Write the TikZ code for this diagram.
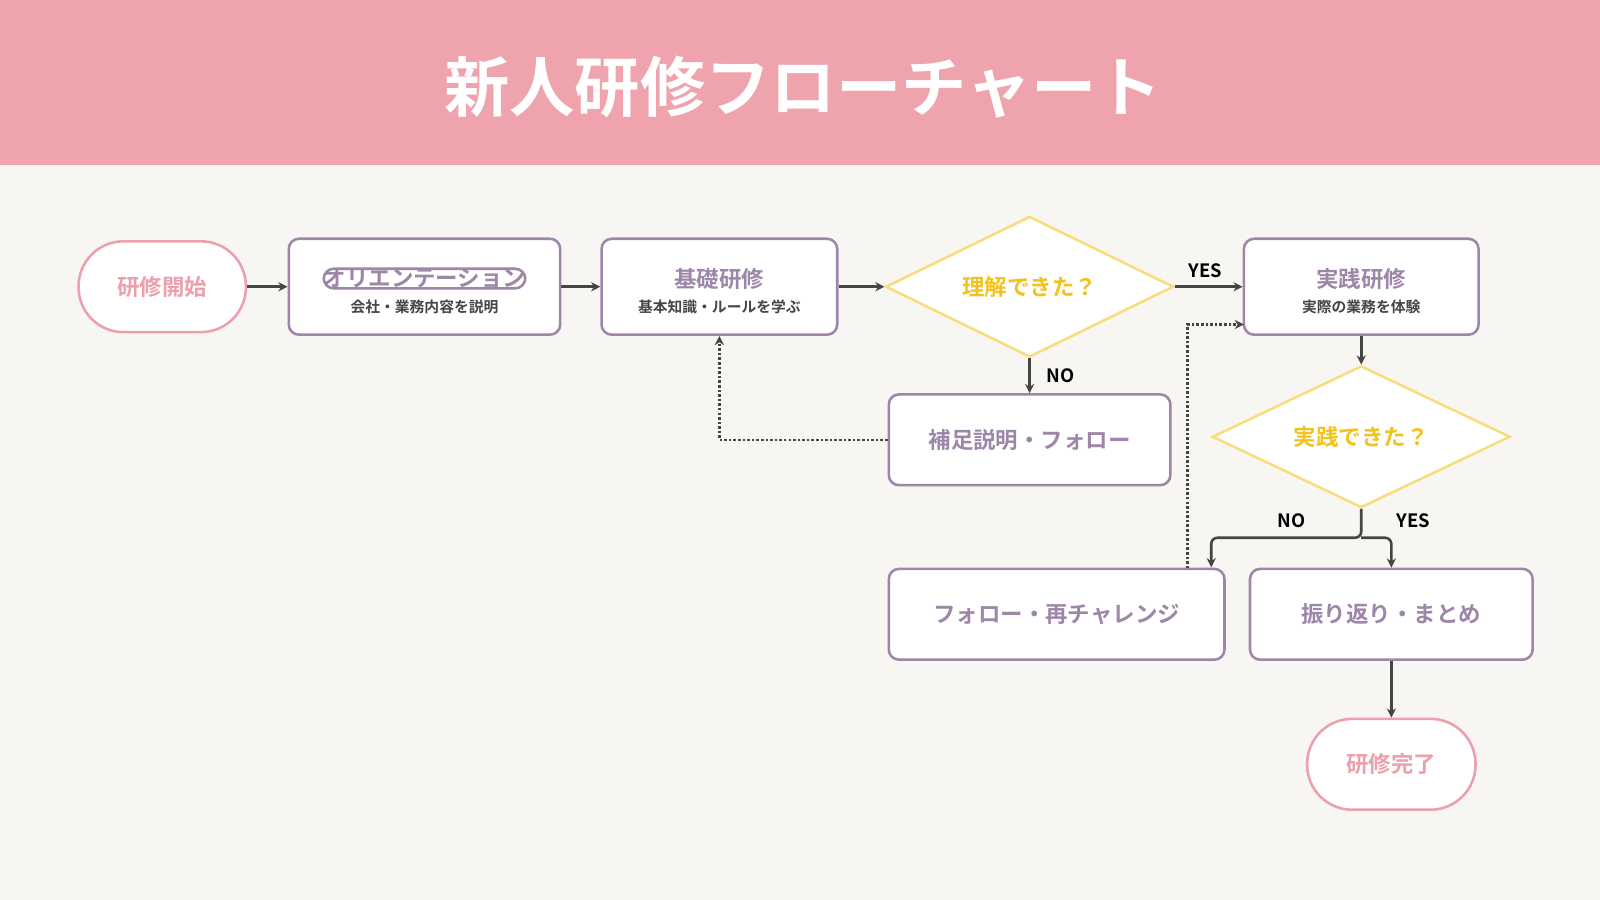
\documentclass[tikz,border=0pt]{standalone}
\usepackage{fontspec}
\setmainfont{Noto Sans CJK JP}[BoldFont={* Bold}]
\usetikzlibrary{shapes.geometric,arrows.meta}
\definecolor{hdr}{HTML}{EEA3AD}
\definecolor{bg}{HTML}{F8F6F3}
\definecolor{pk}{HTML}{EBA0AB}
\definecolor{pu}{HTML}{9D86A8}
\definecolor{yl}{HTML}{F8DD7C}
\definecolor{ytx}{HTML}{F4C21C}
\definecolor{ln}{HTML}{454545}
\tikzset{
 box/.style={draw=pu,line width=2.5pt,fill=white,rounded corners=10pt,align=center,text=pu,font=\fontsize{22}{26}\selectfont\bfseries},
 term/.style={draw=pk,line width=2.5pt,fill=white,rounded corners=44pt,text=pk,font=\fontsize{22}{26}\selectfont\bfseries,minimum height=89pt},
 dia/.style={draw=yl,line width=2.5pt,fill=white,diamond,aspect=2.05,inner sep=0pt,text=ytx,font=\fontsize{22}{26}\selectfont\bfseries},
 sub/.style={font=\fontsize{14.5}{17}\selectfont\bfseries,text=ln},
 arr/.style={draw=ln,line width=2.5pt,-{Stealth[length=9pt,width=9pt]}},
 dot/.style={arr,dotted},
 lab/.style={font=\fontsize{18}{20}\selectfont\bfseries,text=black}
}
\begin{document}
\begin{tikzpicture}[x=1pt,y=-1pt]
\fill[bg] (0,0) rectangle (1568,882);
\useasboundingbox (0,0) rectangle (1568,882);
\fill[hdr] (0,0) rectangle (1568,162);
\node[text=white,font=\fontsize{64}{70}\selectfont\bfseries] (title) at (787,85) {新人研修フローチャート};

\node[term,minimum width=164pt] (start) at (159,281) {研修開始};
\node[box,minimum width=266pt,minimum height=94pt] (ori) at (416,281) {};
\node[box,inner sep=0pt] (oriT) at (416,273) {オリエンテーション};
\node[sub] (oriS) at (416,301) {会社・業務内容を説明};
\node[box,minimum width=231pt,minimum height=94pt] (kiso) at (705,281) {};
\node[box,draw=none,fill=none,inner sep=0pt] (kisoT) at (705,273) {基礎研修};
\node[sub] (kisoS) at (705,301) {基本知識・ルールを学ぶ};
\node[dia,minimum width=282pt,minimum height=138pt] (d1) at (1009,281) {理解できた？};
\node[box,minimum width=230pt,minimum height=94pt] (jis) at (1334,281) {};
\node[box,draw=none,fill=none,inner sep=0pt] (jisT) at (1334,273) {実践研修};
\node[sub] (jisS) at (1334,301) {実際の業務を体験};
\node[box,minimum width=276pt,minimum height=89pt] (hos) at (1009,431) {補足説明・フォロー};
\node[dia,minimum width=292pt,minimum height=139pt] (d2) at (1334,428) {実践できた？};
\node[box,minimum width=329pt,minimum height=89pt] (fol) at (1035.5,602) {フォロー・再チャレンジ};
\node[box,minimum width=277pt,minimum height=89pt] (fur) at (1363.5,602) {振り返り・まとめ};
\node[term,minimum width=165pt] (end) at (1363.5,749) {研修完了};

\draw[arr] (start) -- (ori);
\draw[arr] (ori) -- (kiso);
\draw[arr] (kiso) -- (d1);
\draw[arr] (d1) -- (jis) node[lab,pos=0.45,above=4pt] (yes1) {YES};
\draw[arr] (d1.south) -- (hos.north) node[lab,midway,right=12pt] (no1) {NO};
\draw[dot] (hos.west) -| (kiso.south);
\draw[arr] (jis.south) -- (d2.north);
\coordinate (br) at (1334,527);
\draw[arr,rounded corners=6pt] (d2.south) -- (br) -| (1187,556);
\draw[arr,rounded corners=6pt] (br) -| (fur.north);
\node[lab] (no2) at (1266,510) {NO};
\node[lab] (yes2) at (1385,510) {YES};
\draw[dot] (1164,557) |- (1219,318);
\draw[arr] (fur.south) -- (end.north);
\end{tikzpicture}
\end{document}
